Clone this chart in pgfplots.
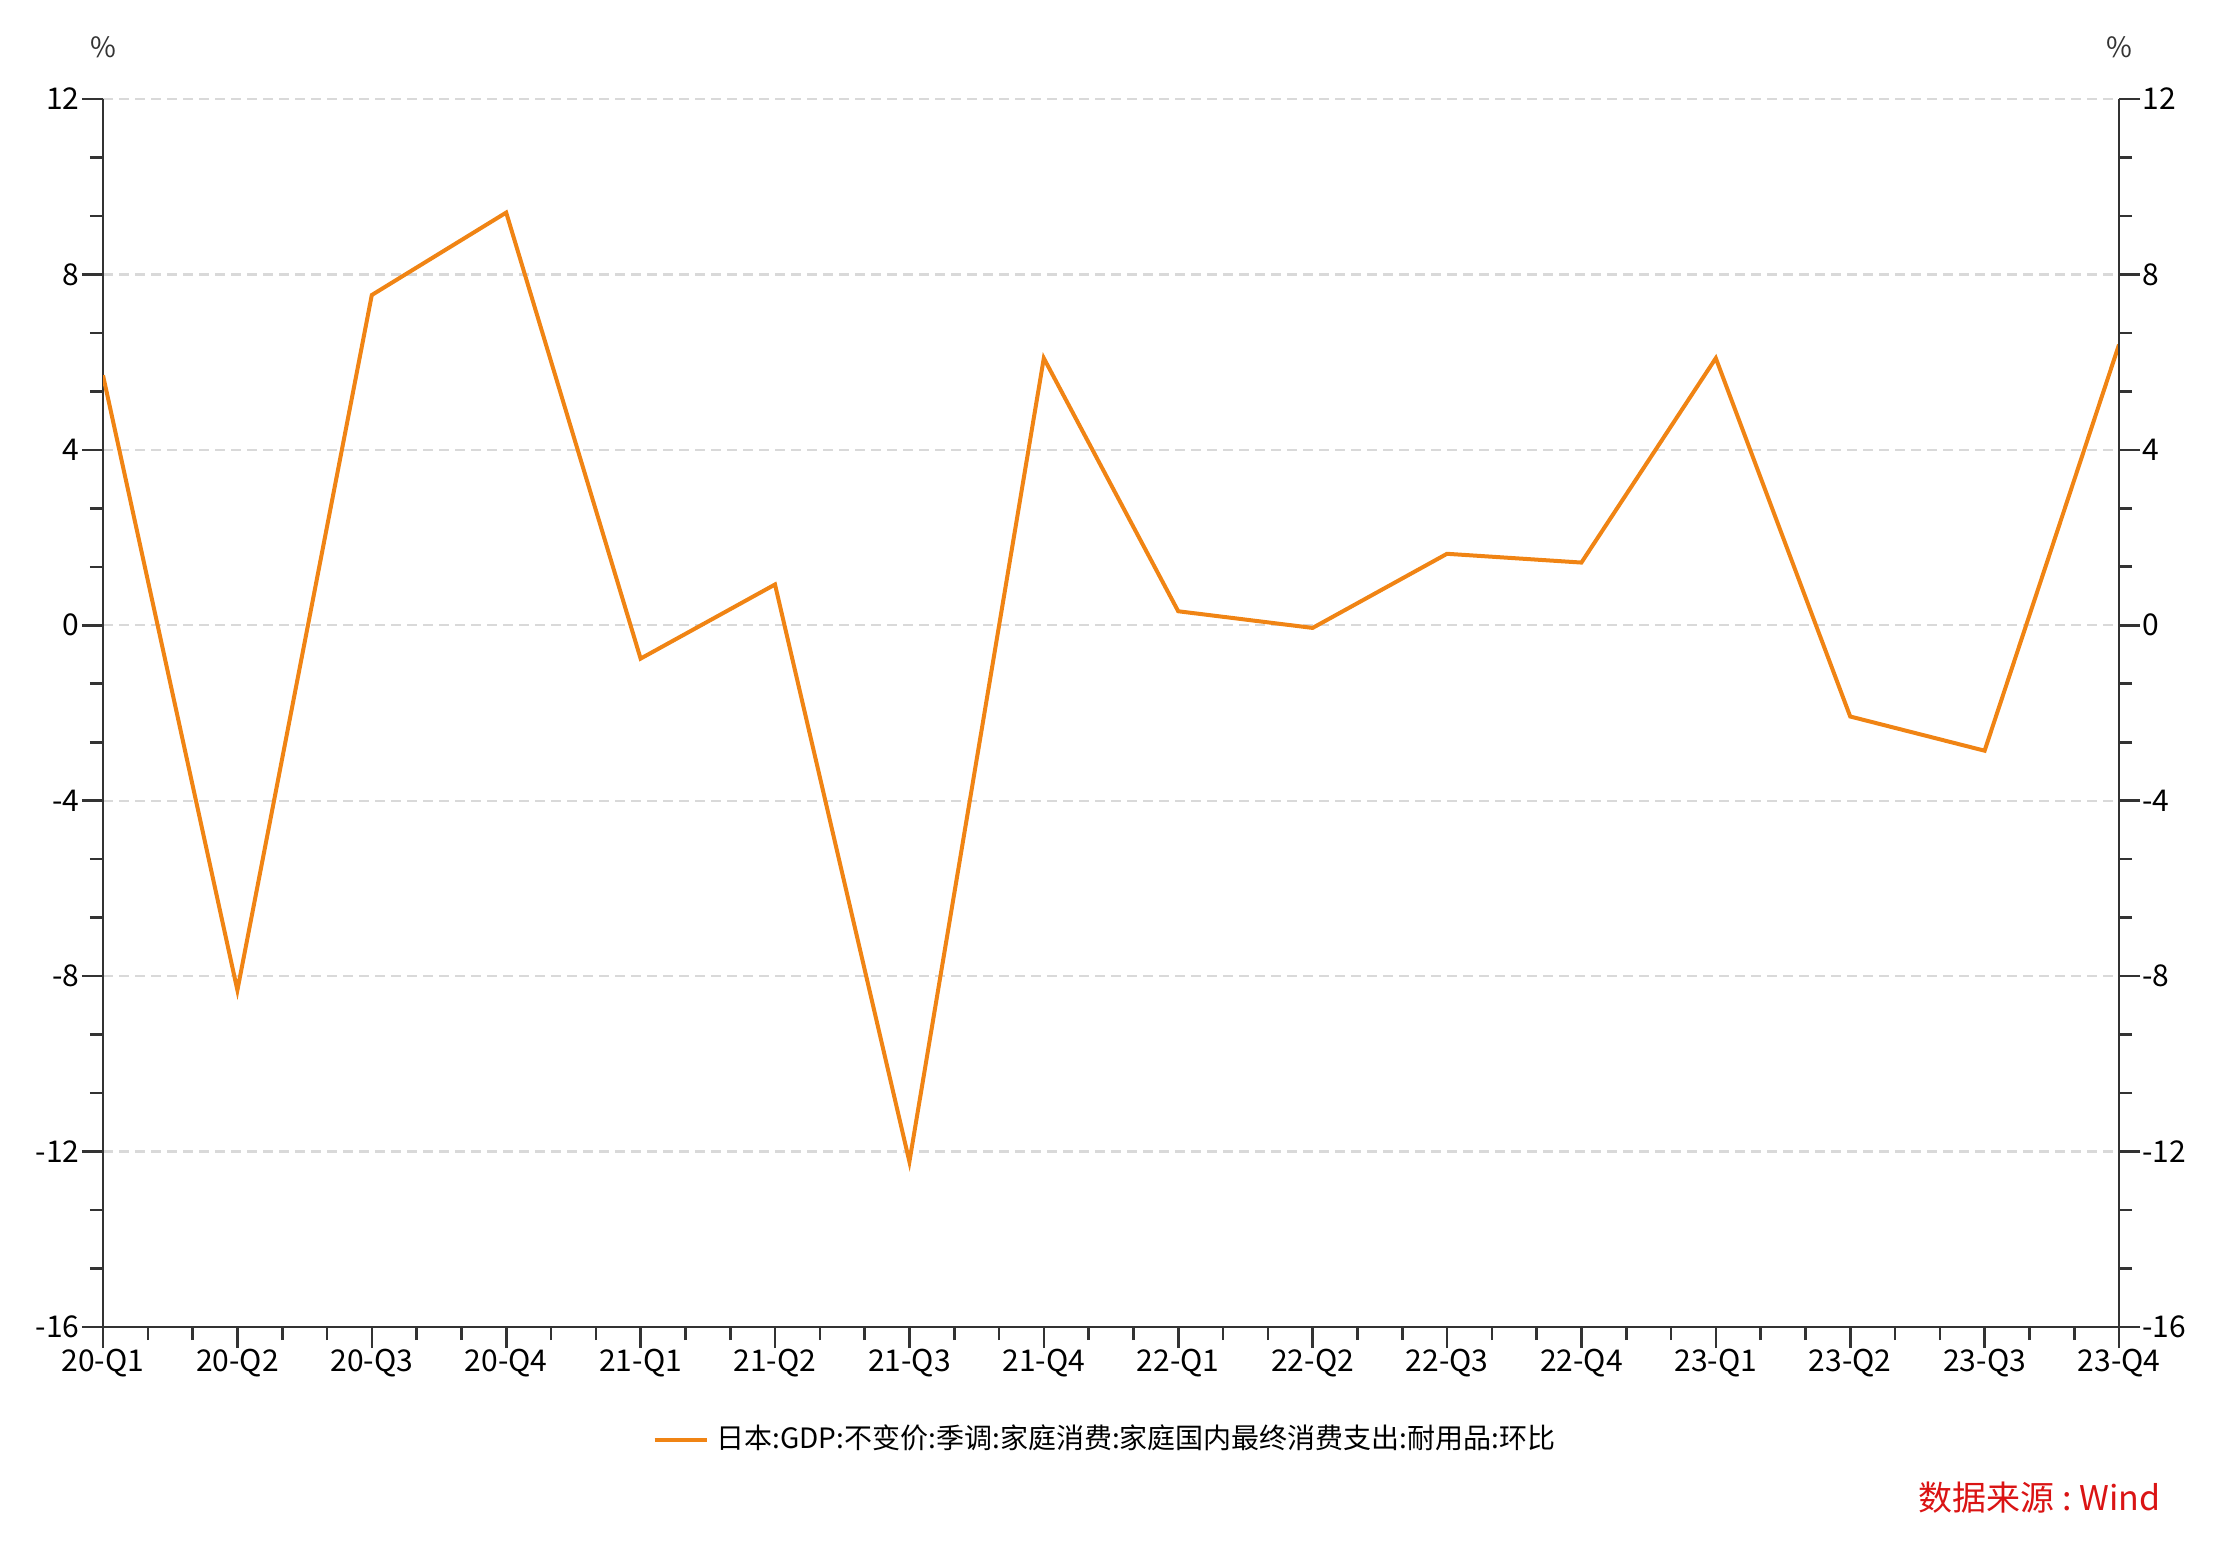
\documentclass[border=0pt]{standalone}
\usepackage{pgfplots}
\pgfplotsset{compat=1.18}
\usepackage{fontspec}
\setmainfont{Noto Sans CJK SC}
\definecolor{axiscol}{RGB}{51,51,51}
\definecolor{gridcol}{RGB}{217,217,217}
\definecolor{linecol}{RGB}{240,132,20}
\definecolor{srccol}{RGB}{218,20,20}
\begin{document}
\begin{tikzpicture}
\useasboundingbox (-25.75bp,-54.75bp) rectangle (529.25bp,331.75bp);
\pgfplotsset{
 common/.style={
  scale only axis, width=504bp, height=307bp,
  at={(0,0)}, anchor=south west,
  xmin=0, xmax=15, ymin=-16, ymax=12,
  ytick={-16,-12,...,12}, minor y tick num=2,
  tick align=outside,
  major tick length=5.25bp, minor tick length=3.25bp,
  axis line style={axiscol, line width=0.65bp},
  every tick/.style={axiscol, line width=0.65bp},
  tick label style={font=\fontsize{7.5bp}{9bp}\selectfont, text=black},
  /pgf/number format/assume math mode=true,
 }
}
\begin{axis}[common,
  axis x line*=bottom, axis y line*=left,
  xtick={0,...,15}, minor x tick num=2,
  xticklabels={20-Q1,20-Q2,20-Q3,20-Q4,21-Q1,21-Q2,21-Q3,21-Q4,22-Q1,22-Q2,22-Q3,22-Q4,23-Q1,23-Q2,23-Q3,23-Q4},
  xticklabel style={inner ysep=0pt, yshift=-0.2bp},
  yticklabel style={inner xsep=0pt, xshift=-0.4bp},
  ymajorgrids,
  major grid style={gridcol, line width=0.6bp, dash pattern=on 2.5bp off 1.5bp},
  legend style={at={(0.4985,-0.092)}, anchor=center, draw=none, fill=none,
    font=\fontsize{7bp}{8bp}\selectfont},
  legend image code/.code={\draw[#1] (0bp,0bp)--(13bp,0bp);},
]
\addplot[linecol, line width=1bp, mark=none] coordinates {
 (0,5.70) (1,-8.32) (2,7.53) (3,9.41) (4,-0.76) (5,0.93) (6,-12.23) (7,6.09)
 (8,0.32) (9,-0.06) (10,1.63) (11,1.43) (12,6.09) (13,-2.08) (14,-2.86) (15,6.40)
};
\addlegendentry{日本:GDP:不变价:季调:家庭消费:家庭国内最终消费支出:耐用品:环比}
\end{axis}
\begin{axis}[common,
  axis y line*=right, axis x line=none,
  yticklabel style={inner xsep=0pt, xshift=0.4bp},
]
\end{axis}
\node[font=\fontsize{7bp}{8bp}\selectfont, text=axiscol] at (0bp,320bp) {\%};
\node[font=\fontsize{7bp}{8bp}\selectfont, text=axiscol] at (504bp,320bp) {\%};
\node[anchor=east, inner sep=0pt, text=srccol, font=\fontsize{8.5bp}{10bp}\selectfont] at (514.5bp,-42.75bp) {数据来源\hspace{0.25em}:\hspace{0.2em}Wind};
\end{tikzpicture}
\end{document}
